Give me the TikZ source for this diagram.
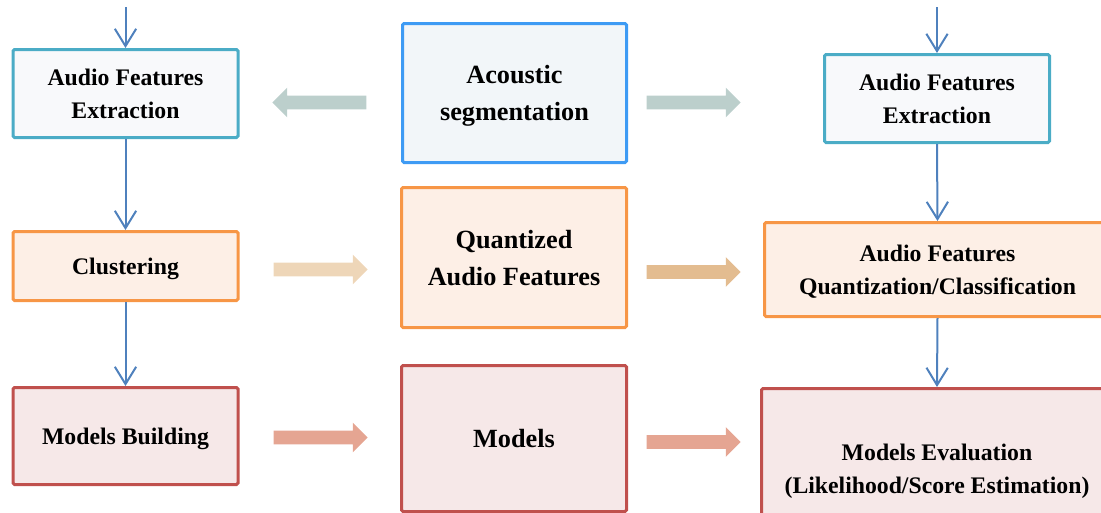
\documentclass[tikz,border=0pt]{standalone}
\usepackage{fontspec}
\setmainfont{Liberation Serif}
\usetikzlibrary{arrows.meta,shapes.arrows}

\definecolor{tealline}{HTML}{4BACC6}
\definecolor{tealfill}{HTML}{F8F9FB}
\definecolor{blueline}{HTML}{3E9BF4}
\definecolor{bluefill}{HTML}{F2F6F9}
\definecolor{orangeline}{HTML}{F79646}
\definecolor{orangefill}{HTML}{FDEFE6}
\definecolor{redline}{HTML}{C0504D}
\definecolor{redfill}{HTML}{F6E8E8}
\definecolor{flowblue}{HTML}{4F81BD}
\definecolor{greyarrow}{HTML}{BCCFCC}
\definecolor{sandarrow}{HTML}{EED6B8}
\definecolor{tanarrow}{HTML}{E3BC90}
\definecolor{salmonarrow}{HTML}{E5A592}

\begin{document}
\begin{tikzpicture}[x=0.75pt,y=-0.75pt,
  wh/.style 2 args={minimum width=#1*0.75pt, minimum height=#2*0.75pt},
  box/.style={rectangle, line width=2.25pt, rounded corners=1.2pt, inner sep=0pt,
    align=center, text depth=0pt, font=\fontsize{17.8}{24.75}\selectfont\bfseries},
  midbox/.style={box, font=\fontsize{19.7}{27.75}\selectfont\bfseries},
  extractbox/.style={box, draw=tealline, fill=tealfill},
  segbox/.style={midbox, draw=blueline, fill=bluefill},
  quantbox/.style={draw=orangeline, fill=orangefill},
  modelbox/.style={draw=redline, fill=redfill},
  flow/.style={draw=flowblue, line width=1.5pt,
    -{Straight Barb[length=13pt, width=16pt, line width=1.5pt]}},
  blockarrow/.style={single arrow, draw=none, inner xsep=0pt, inner ysep=6.5*0.75pt,
    single arrow head extend=8*0.75pt, minimum height=94*0.75pt,
    single arrow tip angle=90, anchor=tip},
  pointleft/.style={shape border rotate=180}
]
\useasboundingbox (0,0) rectangle (1101,512);
\clip (0,0) rectangle (1101,512);

% left column: training chain
\node[extractbox, wh={225}{88}] (afeL) at (125.5,93.5) {Audio Features\\Extraction};
\node[box, quantbox, wh={225}{69}] (clus) at (125.5,266) {Clustering};
\node[box, modelbox, wh={225}{97}] (build) at (125.5,436) {Models Building};

% middle column: shared data
\node[segbox, wh={224}{139}] (seg) at (514.5,93) {Acoustic\\segmentation};
\node[midbox, quantbox, wh={225}{140}] (qaf) at (514,257.5) {Quantized\\Audio Features};
\node[midbox, modelbox, wh={225}{146}] (mod) at (514,438.5) {Models};

% right column: recognition chain
\node[extractbox, wh={225}{88}] (afeR) at (937,98.5) {Audio Features\\Extraction};
\node[box, quantbox, wh={346}{94}] (afq) at (937.5,269.5) {Audio Features\\Quantization/Classification};
\node[box, modelbox, wh={351}{160}] (eval) at (937,468.5) {Models Evaluation\\(Likelihood/Score Estimation)};

% incoming audio
\coordinate (inL) at (125.5,7);
\coordinate (inR) at (937,7);

% vertical flow
\draw[flow] (inL) -- (afeL.north);
\draw[flow] (afeL.south) -- (clus.north);
\draw[flow] (clus.south) -- (build.north);
\draw[flow] (inR) -- (afeR.north);
\draw[flow] (afeR.south) -- (afq.north);
\draw[flow] (afq.south) -- (eval.north);

% horizontal block arrows, placed by their tips
\node[blockarrow, pointleft, fill=greyarrow] (segL) at (272,102.5) {};
\node[blockarrow, fill=greyarrow] (segR) at (741,102.5) {};
\node[blockarrow, fill=sandarrow] (qafL) at (368,269.5) {};
\node[blockarrow, fill=tanarrow] (qafR) at (741,272) {};
\node[blockarrow, fill=salmonarrow] (modL) at (368,437.5) {};
\node[blockarrow, fill=salmonarrow] (modR) at (741,442) {};
\end{tikzpicture}
\end{document}
